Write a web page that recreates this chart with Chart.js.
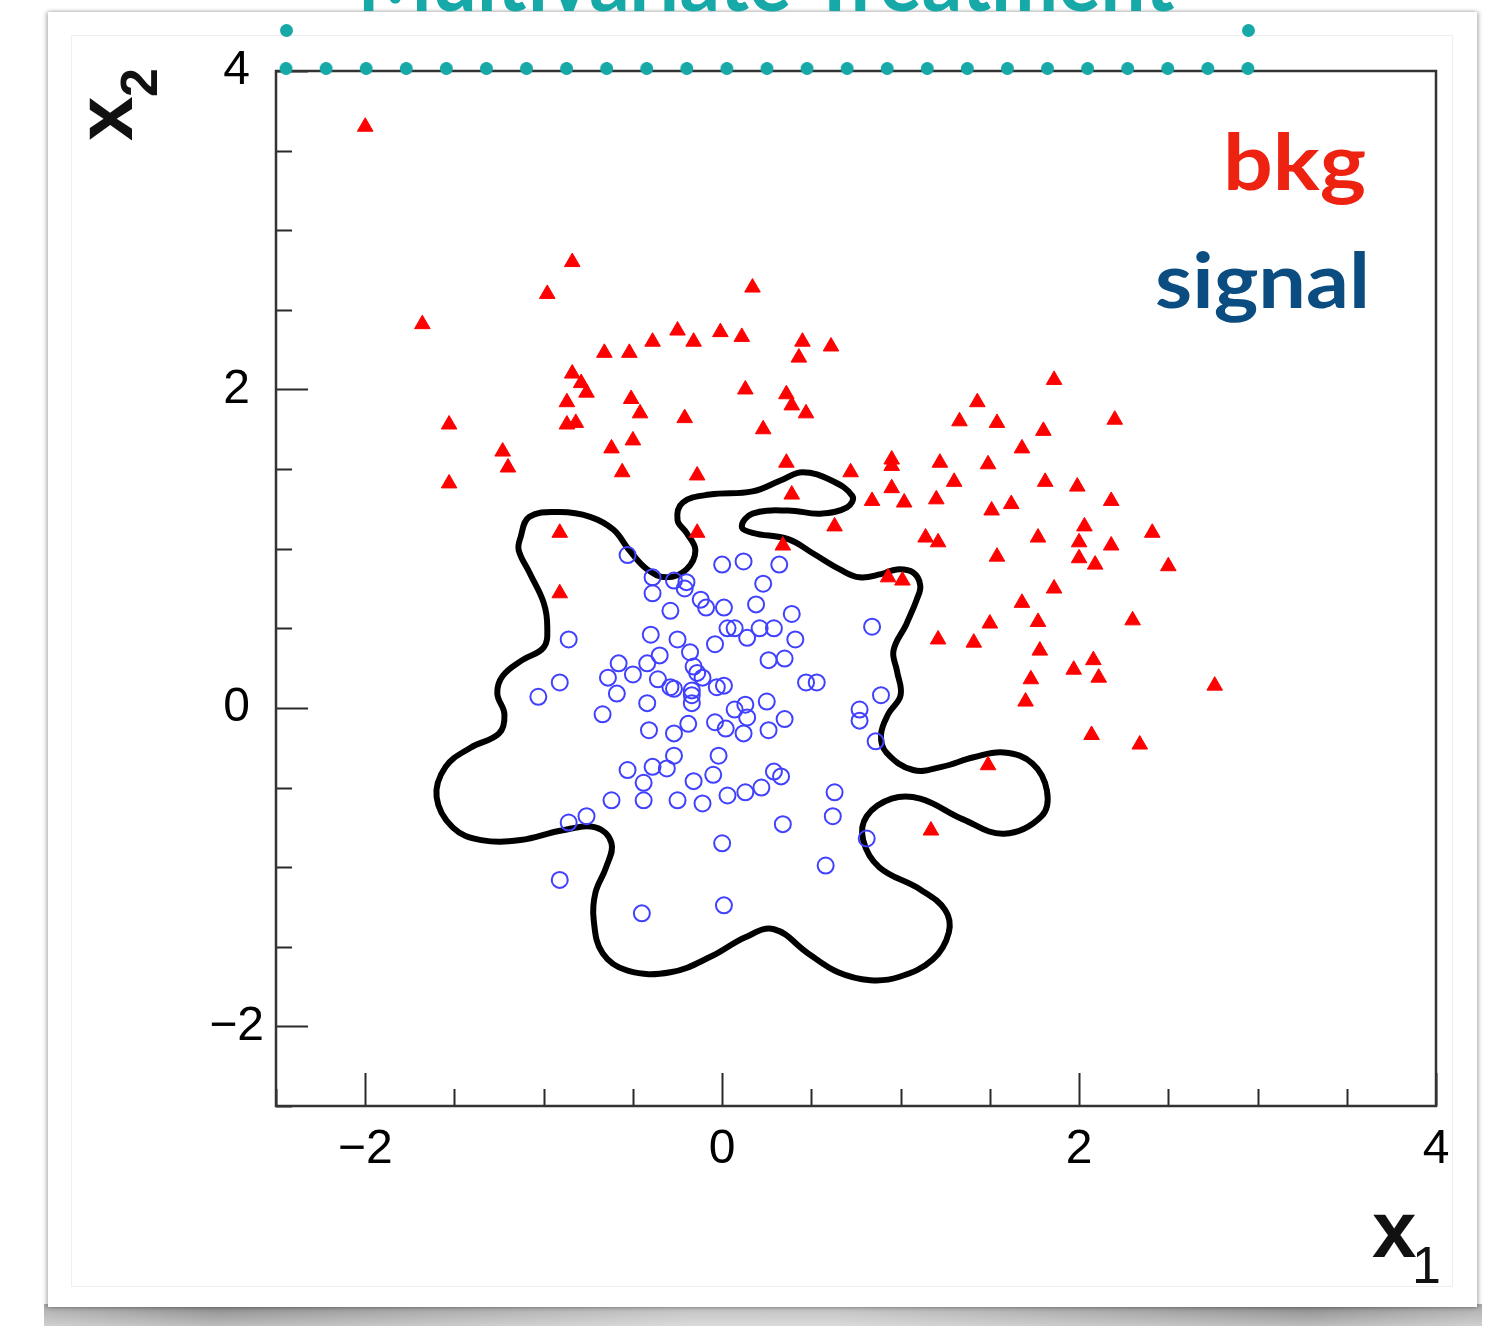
<!DOCTYPE html>
<html>
<head>
<meta charset="utf-8">
<script src="https://cdn.jsdelivr.net/npm/chart.js@4.4.1/dist/chart.umd.min.js"></script>
<style>
html,body{margin:0;padding:0;background:#fff;}
body{width:1490px;height:1326px;position:relative;overflow:hidden;}
#shadow{position:absolute;left:44px;top:1304px;width:1438px;height:22px;
 background:linear-gradient(to bottom, rgba(255,255,255,0) 0%, rgba(255,255,255,0.45) 100%),
 linear-gradient(to right,#aaaaaa 0%,#858585 12%,#bdbdbd 45%,#bdbdbd 55%,#858585 88%,#aaaaaa 100%);}
#card{position:absolute;left:48px;top:12px;width:1429px;height:1295px;background:#fff;
 box-shadow:-2px 0 4px rgba(0,0,0,0.25),2px 0 4px rgba(0,0,0,0.25);}
#inner{position:absolute;left:71px;top:35px;width:1380px;height:1250px;border:1px solid #efefef;}
#c{position:absolute;left:0;top:0;width:1490px;height:1326px;}
.dotrow{position:absolute;left:266px;top:61.5px;width:1002px;height:13px;
 background-image:radial-gradient(circle,#17a9a8 6px,rgba(23,169,168,0) 6.8px);
 background-size:40.08px 13px;background-repeat:repeat-x;}
.dot{position:absolute;width:13px;height:13px;border-radius:50%;background:#17a9a8;}
</style>
</head>
<body>
<div id="shadow"></div>
<div id="card"></div>
<div id="inner"></div>
<canvas id="c" width="1490" height="1326"></canvas>
<div class="dotrow"></div>
<div class="dot" style="left:279.5px;top:23.5px"></div>
<div class="dot" style="left:1241.5px;top:23.5px"></div>
<script>
// ---- data ----
const bkgX = [-0.84,-0.98,0.17,-1.68,-0.25,-0.01,0.11,-0.16,-0.39,-0.52,
  -0.66,0.45,0.43,0.61,-0.84,-0.79,-0.76,-0.87,0.13,0.36,
  0.39,0.47,-0.51,-0.46,-0.21,0.23,-1.53,-0.87,-0.82,-0.50,
  -0.62,-1.23,-1.20,-0.56,-0.14,0.36,-1.53,0.39,-0.91,-0.14,
  1.86,1.43,1.33,1.54,2.20,1.80,1.68,0.95,0.95,1.22,
  1.49,0.72,1.30,1.81,1.99,0.95,0.84,1.02,1.20,1.51,
  1.62,2.18,0.63,2.03,2.41,1.14,1.21,1.77,2.00,2.18,
  1.54,2.00,2.09,2.50,0.93,1.01,1.86,1.68,1.50,1.77,
  2.30,1.21,1.41,1.78,2.08,1.97,2.11,1.73,2.76,1.70,
  2.07,2.34,-2.00,-0.91,1.49,1.17,0.34];
const bkgY = [2.80,2.60,2.64,2.41,2.37,2.36,2.33,2.30,2.30,2.23,
  2.23,2.30,2.20,2.27,2.10,2.04,1.98,1.92,2.00,1.97,
  1.90,1.85,1.94,1.85,1.82,1.75,1.78,1.78,1.79,1.68,
  1.63,1.61,1.51,1.48,1.46,1.54,1.41,1.34,1.10,1.10,
  2.06,1.92,1.80,1.79,1.81,1.74,1.63,1.56,1.52,1.54,
  1.53,1.48,1.42,1.42,1.39,1.38,1.30,1.29,1.31,1.24,
  1.28,1.30,1.14,1.14,1.10,1.07,1.04,1.07,1.04,1.02,
  0.95,0.94,0.90,0.89,0.82,0.80,0.75,0.66,0.53,0.54,
  0.55,0.43,0.41,0.36,0.30,0.24,0.19,0.18,0.14,0.04,
  -0.17,-0.23,3.65,0.72,-0.36,-0.77,1.02];

const sigX = [-0.53,-0.39,-0.27,-0.20,-0.21,-0.39,0.00,0.12,0.32,0.23,
  -0.12,-0.09,-0.29,0.01,0.19,0.39,0.03,0.07,0.14,0.21,
  0.29,0.41,0.84,-0.40,-0.25,-0.04,-0.86,-0.18,-0.35,-0.42,
  -0.58,-0.16,-0.14,-0.11,-0.50,-0.64,-0.36,-0.29,-0.27,-0.91,
  -1.03,-0.59,-0.17,-0.17,-0.17,-0.03,0.01,0.26,0.35,0.47,
  0.53,-0.42,-0.67,0.25,0.89,0.77,0.77,0.07,0.13,0.14,
  0.12,-0.04,-0.19,-0.41,-0.27,0.02,0.26,0.35,0.86,-0.27,
  -0.02,-0.53,-0.39,-0.31,-0.05,0.29,0.33,-0.44,-0.16,0.63,
  -0.62,-0.44,-0.25,-0.11,0.03,0.13,0.22,0.62,0.34,-0.76,
  -0.86,0.00,0.81,0.58,-0.91,-0.45,0.01];
const sigY = [0.96,0.82,0.80,0.79,0.75,0.72,0.90,0.92,0.90,0.78,
  0.68,0.63,0.61,0.63,0.65,0.59,0.50,0.50,0.44,0.50,
  0.50,0.43,0.51,0.46,0.43,0.40,0.43,0.35,0.33,0.28,
  0.28,0.26,0.22,0.19,0.21,0.19,0.18,0.13,0.12,0.16,
  0.07,0.09,0.11,0.08,0.03,0.13,0.14,0.30,0.31,0.16,
  0.16,0.03,-0.04,0.04,0.08,-0.01,-0.08,-0.01,0.02,-0.06,
  -0.16,-0.09,-0.10,-0.14,-0.16,-0.13,-0.14,-0.07,-0.21,-0.30,
  -0.30,-0.39,-0.37,-0.38,-0.42,-0.40,-0.43,-0.47,-0.46,-0.53,
  -0.58,-0.58,-0.58,-0.60,-0.55,-0.53,-0.50,-0.68,-0.73,-0.68,
  -0.72,-0.85,-0.82,-0.99,-1.08,-1.29,-1.24];

// decision boundary (closed contour)
const boundaryX = [1.03,0.96,0.98,1.00,0.93,0.89,0.92,1.07,1.23,1.41,
  1.58,1.74,1.82,1.79,1.58,1.35,1.11,0.95,0.81,0.79,
  0.88,1.11,1.25,1.27,1.18,0.99,0.83,0.65,0.48,0.29,
  0.13,-0.06,-0.29,-0.53,-0.67,-0.72,-0.71,-0.65,-0.62,-0.71,
  -0.90,-1.13,-1.35,-1.51,-1.60,-1.55,-1.41,-1.25,-1.22,-1.26,
  -1.23,-1.12,-1.00,-0.98,-1.00,-1.08,-1.14,-1.13,-1.08,-0.91,
  -0.74,-0.61,-0.52,-0.42,-0.31,-0.20,-0.15,-0.20,-0.25,-0.22,
  -0.07,0.17,0.33,0.45,0.61,0.73,0.70,0.55,0.37,0.17,
  0.11,0.17,0.37,0.51,0.66,0.77,0.89,0.98,1.07,1.11,
  1.09,1.03];
const boundaryY = [0.52,0.36,0.23,0.08,-0.04,-0.17,-0.28,-0.39,-0.37,-0.31,
  -0.28,-0.35,-0.52,-0.68,-0.79,-0.70,-0.57,-0.57,-0.68,-0.83,
  -1.00,-1.14,-1.27,-1.41,-1.58,-1.69,-1.71,-1.66,-1.54,-1.39,
  -1.44,-1.56,-1.66,-1.65,-1.54,-1.33,-1.16,-1.00,-0.85,-0.75,
  -0.77,-0.83,-0.83,-0.75,-0.56,-0.37,-0.25,-0.16,-0.04,0.09,
  0.20,0.30,0.38,0.51,0.66,0.85,0.99,1.07,1.20,1.23,
  1.20,1.12,0.99,0.87,0.82,0.87,0.99,1.10,1.18,1.29,
  1.34,1.36,1.43,1.48,1.43,1.33,1.26,1.22,1.24,1.22,
  1.14,1.10,1.06,0.97,0.87,0.82,0.84,0.87,0.85,0.77,
  0.68,0.52];

const xRange = [-2.5, 4];
const yRange = [-2.5, 4];
const xTickValues = [-2, 0, 2, 4];
const xTickLabels = ['\u22122', '0', '2', '4'];
const yTickValues = [-2, 0, 2, 4];
const yTickLabels = ['\u22122', '0', '2', '4'];
const titleText = 'Multivariate Treatment';
const legendTexts = ['bkg', 'signal'];

// ---- helpers ----
function toPoints(xs, ys) { return xs.map((x, i) => ({ x: x, y: ys[i] })); }
function labelFor(v, vals, labs) {
  for (let i = 0; i < vals.length; i++) if (Math.abs(v - vals[i]) < 1e-9) return labs[i];
  return '';
}
function fitText(ctx, txt, x, y, font, width, align, color) {
  ctx.save();
  ctx.font = font;
  ctx.fillStyle = color;
  ctx.textBaseline = 'alphabetic';
  const w = ctx.measureText(txt).width;
  const s = width / w;
  ctx.translate(x, y);
  ctx.scale(s, 1);
  ctx.textAlign = align;
  ctx.fillText(txt, 0, 0);
  ctx.restore();
}

const decor = {
  id: 'decor',
  afterDatasetsDraw(chart) {
    const ctx = chart.ctx, a = chart.chartArea;
    const xs = chart.scales.x, ys = chart.scales.y;
    ctx.save();
    ctx.strokeStyle = '#2a2a2a';
    ctx.lineWidth = 2;
    ctx.beginPath();
    xs.ticks.forEach(t => {
      const p = Math.round(xs.getPixelForValue(t.value)) + 0.5;
      const len = labelFor(t.value, xTickValues, xTickLabels) ? 33 : 17;
      ctx.moveTo(p, a.bottom); ctx.lineTo(p, a.bottom - len);
    });
    ys.ticks.forEach(t => {
      const p = Math.round(ys.getPixelForValue(t.value)) + 0.5;
      const len = labelFor(t.value, yTickValues, yTickLabels) ? 32 : 16;
      ctx.moveTo(a.left, p); ctx.lineTo(a.left + len, p);
    });
    ctx.stroke();
    ctx.lineWidth = 2.5;
    ctx.strokeStyle = '#333';
    ctx.strokeRect(a.left, a.top, a.right - a.left, a.bottom - a.top);
    ctx.restore();
  },
  afterDraw(chart) {
    const ctx = chart.ctx;
    // slide title (cut by the top edge)
    fitText(ctx, titleText, 766, 11, 'bold 84px Lato', 817, 'center', '#17a9a8');
    // text legend
    fitText(ctx, legendTexts[0], 1366, 190, 'bold 78px Lato', 143, 'right', '#ee2211');
    fitText(ctx, legendTexts[1], 1370, 308, 'bold 76px Lato', 215, 'right', '#0b4d80');
    // axis titles
    ctx.save();
    ctx.fillStyle = '#111';
    ctx.textAlign = 'left';
    ctx.textBaseline = 'alphabetic';
    ctx.font = 'bold 80px "Liberation Sans"';
    ctx.fillText('x', 1372, 1257);
    ctx.font = '52px "Liberation Sans"';
    ctx.fillText('1', 1412, 1283);
    ctx.translate(132, 141);
    ctx.rotate(-Math.PI / 2);
    ctx.font = 'bold 80px "Liberation Sans"';
    ctx.fillText('x', 0, 0);
    ctx.font = 'bold 52px "Liberation Sans"';
    ctx.fillText('2', 44, 25);
    ctx.restore();
  }
};

new Chart(document.getElementById('c'), {
  type: 'scatter',
  data: {
    datasets: [
      {
        label: legendTexts[0],
        data: toPoints(bkgX, bkgY),
        pointStyle: 'triangle',
        pointRadius: 9,
        pointHoverRadius: 9,
        backgroundColor: '#ff0000',
        borderColor: '#ff0000',
        borderWidth: 1,
        order: 1
      },
      {
        label: legendTexts[1],
        data: toPoints(sigX, sigY),
        pointStyle: 'circle',
        pointRadius: 8,
        pointHoverRadius: 8,
        backgroundColor: 'rgba(0,0,0,0)',
        borderColor: '#4040ff',
        borderWidth: 2,
        order: 2
      },
      {
        label: 'boundary',
        data: toPoints(boundaryX, boundaryY),
        showLine: true,
        pointRadius: 0,
        pointHoverRadius: 0,
        borderColor: '#000',
        borderWidth: 6,
        tension: 0.4,
        borderJoinStyle: 'round',
        borderCapStyle: 'round',
        fill: false,
        order: 3
      }
    ]
  },
  options: {
    responsive: false,
    animation: false,
    devicePixelRatio: 1,
    events: [],
    layout: { padding: { left: 0, top: 71, right: 54, bottom: 0 } },
    plugins: { legend: { display: false }, tooltip: { enabled: false }, title: { display: false } },
    scales: {
      x: {
        type: 'linear',
        position: 'bottom',
        min: xRange[0], max: xRange[1],
        grid: { display: false, drawTicks: false },
        border: { display: false },
        ticks: {
          stepSize: 0.5, autoSkip: false, maxRotation: 0, padding: 15,
          color: '#000',
          font: { family: '"Liberation Sans"', size: 48 },
          callback: v => labelFor(v, xTickValues, xTickLabels)
        },
        afterFit: s => { s.height = 220; }
      },
      y: {
        type: 'linear',
        position: 'left',
        min: yRange[0], max: yRange[1],
        grid: { display: false, drawTicks: false },
        border: { display: false },
        ticks: {
          stepSize: 0.5, autoSkip: false, padding: 12, crossAlign: 'center',
          color: '#000',
          font: { family: '"Liberation Sans"', size: 48 },
          callback: v => labelFor(v, yTickValues, yTickLabels)
        },
        afterFit: s => { s.width = 276; }
      }
    }
  },
  plugins: [decor]
});
</script>
</body>
</html>
